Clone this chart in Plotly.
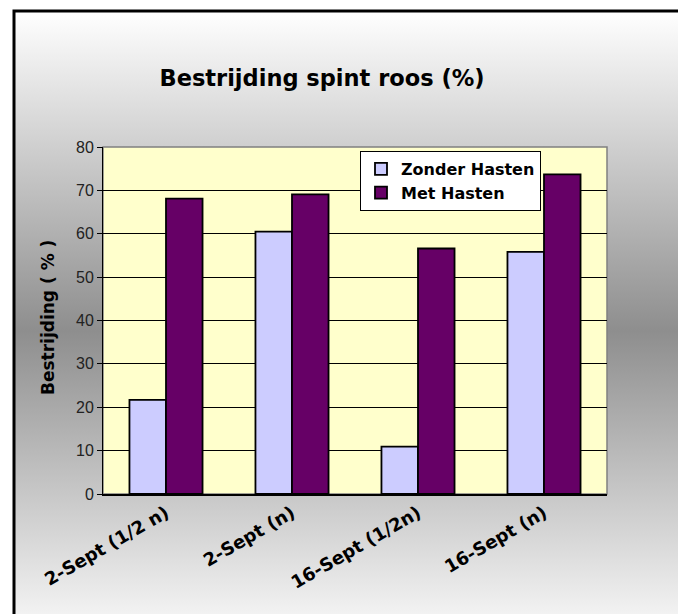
import base64
import plotly.graph_objects as go

categories = ["2-Sept (1/2 n)", "2-Sept (n)", "16-Sept (1/2n)", "16-Sept (n)"]
zonder_hasten = [21.7, 60.5, 10.9, 55.8]
met_hasten = [68.1, 69.1, 56.6, 73.7]
y_ticks = [0, 10, 20, 30, 40, 50, 60, 70, 80]

W, H = 686, 614
OFF = 8  # page body margin
L, R, T, B = 103 - OFF, 79 + OFF, 147 - OFF, 120 + OFF
pw, ph = W - L - R, H - T - B

def px_x(p):
    return (p - OFF - L) / pw

def px_y(p):
    return (H - B - (p - OFF)) / ph

svg = (
    '<svg xmlns="http://www.w3.org/2000/svg" width="669" height="640" preserveAspectRatio="none">'
    '<defs><linearGradient id="g" x1="0" y1="0" x2="0" y2="1">'
    '<stop offset="0" stop-color="#ffffff"/>'
    '<stop offset="0.5" stop-color="#8e8e8e"/>'
    '<stop offset="1" stop-color="#ffffff"/>'
    '</linearGradient></defs>'
    '<rect x="0" y="0" width="669" height="640" fill="url(#g)"/></svg>'
)
uri = "data:image/svg+xml;base64," + base64.b64encode(svg.encode()).decode()

fig = go.Figure()
fig.add_trace(go.Bar(x=categories, y=zonder_hasten, name="<b>Zonder Hasten</b>",
                     marker=dict(color="#ccccff", line=dict(color="#000000", width=1.8))))
fig.add_trace(go.Bar(x=categories, y=met_hasten, name="<b>Met Hasten</b>",
                     marker=dict(color="#660066", line=dict(color="#000000", width=1.8))))

fig.update_layout(
    width=W, height=H,
    margin=dict(l=L, r=R, t=T, b=B, pad=0),
    paper_bgcolor="#ffffff",
    plot_bgcolor="rgba(0,0,0,0)",
    barmode="group",
    bargap=0.42,
    bargroupgap=0,
    title=dict(text="<b>Bestrijding spint roos (%)</b>", x=(322 - OFF) / W, xanchor="center",
               y=1 - (78 - OFF) / H, yanchor="middle",
               font=dict(family="DejaVu Sans", size=22.5, color="#000000")),
    legend=dict(x=px_x(360), y=px_y(151), xanchor="left", yanchor="top",
                bgcolor="#ffffff", bordercolor="#000000", borderwidth=1,
                font=dict(family="DejaVu Sans", size=16, color="#000000"),
                itemwidth=30, tracegroupgap=0, traceorder="normal"),
    showlegend=True,
    images=[dict(source=uri, xref="paper", yref="paper",
                 x=px_x(14), y=px_y(11), sizex=669 / pw, sizey=640 / ph,
                 xanchor="left", yanchor="top", sizing="stretch", layer="below")],
    shapes=[
        dict(type="rect", xref="x domain", yref="y domain", x0=0, x1=1, y0=0, y1=1,
             fillcolor="#ffffcc", line=dict(color="#808080", width=1.5), layer="below"),
        dict(type="rect", xref="paper", yref="paper",
             x0=px_x(14), x1=px_x(683), y0=px_y(11), y1=px_y(640),
             line=dict(color="#000000", width=3), fillcolor="rgba(0,0,0,0)", layer="above"),
    ],
    annotations=[dict(text="<b>Bestrijding ( % )</b>", xref="paper", yref="paper",
                      x=px_x(48), y=px_y(318), textangle=-90, showarrow=False,
                      xanchor="center", yanchor="middle",
                      font=dict(family="DejaVu Sans", size=17, color="#000000"))],
)
fig.update_xaxes(
    showline=True, linecolor="#000000", linewidth=1.5,
    tickangle=-30, ticks="",
    tickfont=dict(family="DejaVu Sans", size=18, color="#000000"),
    ticktext=["<b>" + c + "</b>" for c in categories], tickvals=categories,
    showgrid=False,
)
fig.update_yaxes(
    range=[0, 80], tickvals=y_ticks, ticks="outside", ticklen=5, tickcolor="#000000",
    showline=True, linecolor="#000000", linewidth=1,
    showgrid=True, gridcolor="#000000", gridwidth=1,
    tickfont=dict(family="Liberation Sans", size=16, color="#222222"),
    zeroline=False,
)
fig.write_html("out.html")
